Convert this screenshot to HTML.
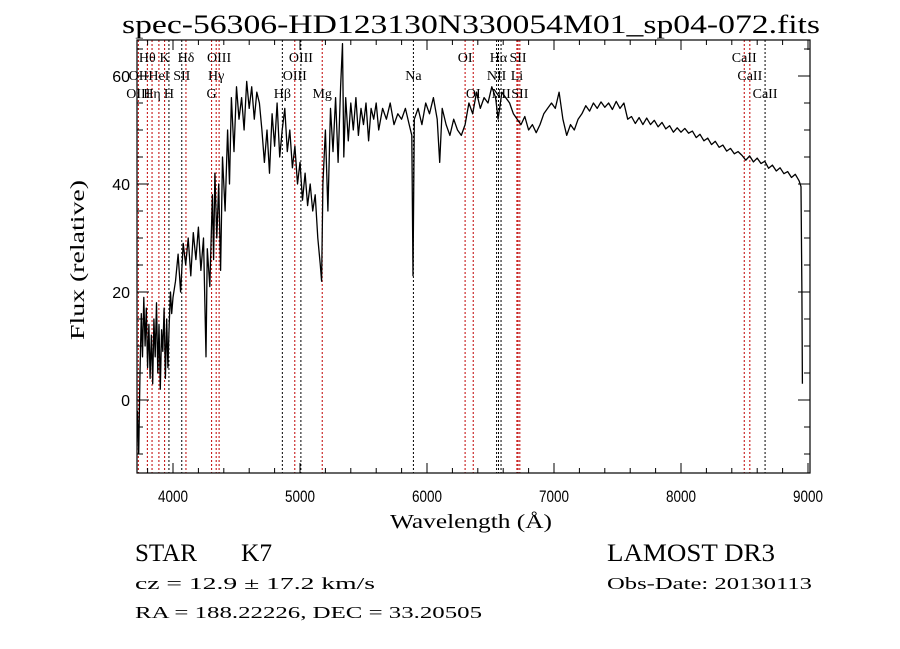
<!DOCTYPE html>
<html><head><meta charset="utf-8"><style>
html,body{margin:0;padding:0;background:#fff;}
svg{display:block;}
.t{font-family:"Liberation Serif",serif;fill:#000;}
.s{font-family:"Liberation Sans",sans-serif;fill:#000;}
</style></head><body>
<svg id="chart" width="900" height="649" xmlns="http://www.w3.org/2000/svg">
<rect width="900" height="649" fill="#fff"/>
<text class="t" x="122" y="33" font-size="26" textLength="698" lengthAdjust="spacingAndGlyphs">spec-56306-HD123130N330054M01_sp04-072.fits</text>
<g id="lines"></g>
<g id="spec"></g>
<g id="axes"></g>
<text class="t" x="390" y="528" font-size="20" textLength="162" lengthAdjust="spacingAndGlyphs">Wavelength (Å)</text>
<text class="t" x="84" y="260" font-size="20" text-anchor="middle" textLength="160" lengthAdjust="spacingAndGlyphs" transform="rotate(-90 84 260)">Flux (relative)</text>
<text class="t" x="135" y="561" font-size="25" textLength="62" lengthAdjust="spacingAndGlyphs">STAR</text>
<text class="t" x="241" y="561" font-size="25" textLength="31" lengthAdjust="spacingAndGlyphs">K7</text>
<text class="t" x="607" y="561" font-size="25" textLength="168" lengthAdjust="spacingAndGlyphs">LAMOST DR3</text>
<text class="t" x="135" y="589" font-size="17" textLength="240" lengthAdjust="spacingAndGlyphs">cz = 12.9 ± 17.2 km/s</text>
<text class="t" x="607" y="589" font-size="17" textLength="205" lengthAdjust="spacingAndGlyphs">Obs-Date: 20130113</text>
<text class="t" x="135" y="618" font-size="17" textLength="347" lengthAdjust="spacingAndGlyphs">RA = 188.22226, DEC =  33.20505</text>
</svg>
<script>
const waves=[3720,3730,3740,3750,3760,3770,3780,3790,3800,3810,3820,3830,3840,3850,3860,3870,3880,3890,3900,3910,3920,3930,3940,3950,3960,3970,3980,3990,4000,4020,4040,4060,4080,4100,4120,4140,4160,4180,4200,4220,4240,4260,4270,4290,4310,4320,4330,4345,4360,4375,4390,4410,4430,4445,4460,4480,4500,4520,4540,4560,4580,4600,4620,4640,4660,4680,4700,4720,4740,4760,4780,4800,4820,4840,4860,4880,4900,4920,4940,4960,4980,5000,5020,5040,5060,5080,5100,5120,5140,5160,5170,5180,5200,5220,5240,5260,5280,5300,5320,5335,5345,5360,5380,5400,5420,5440,5460,5480,5500,5520,5540,5560,5580,5600,5620,5650,5680,5710,5740,5770,5800,5830,5860,5880,5890,5900,5930,5960,5990,6020,6050,6080,6100,6120,6150,6180,6210,6240,6270,6300,6330,6360,6390,6420,6450,6480,6510,6540,
6560,6590,6620,6650,6680,6710,6740,6770,6800,6830,
6860,6890,6920,6950,6980,7010,7040,7070,7100,7130,
7160,7190,7220,7250,7280,7310,7340,7370,7400,7430,
7460,7490,7520,7550,7580,7610,7640,7670,7700,7730,
7760,7790,7820,7850,7880,7910,7940,7970,8000,8030,
8060,8090,8120,8150,8180,8210,8240,8270,8300,8330,
8360,8390,8420,8450,8480,8510,8540,8570,8600,8630,
8660,8690,8720,8750,8780,8810,8840,8870,8900,8930,
8945,8952,8956];
const flux=[-2,-10,5,16,8,19,10,17,6,14,4,12,3,15,8,18,5,14,2,13,9,17,4,15,6,14,20,16,19,22,27,20,29,25,30,23,31,26,32,24,30,8,28,21,38,26,42,30,40,24,45,35,50,40,56,46,58,52,56,50,59,54,58,52,57,55,50,44,50,42,53,47,55,45,50,54,46,50,43,47,40,44,37,42,36,40,35,38,30,25,22,40,50,35,54,46,56,44,58,66,45,56,48,55,50,56,49,54,51,55,48,54,52,55,50,54,52,55,51,53,52,54,51,49,23,52,54,51,55,53,56,52,44,54,51,49,52,50,49,51,55,53,57,54,56,55,58,56,
52,57,56,55,53,52,51,52.5,50,51,
49.5,51,53,54,55,54,57,52,49,51,
50,52,53,54.5,53.5,55,54,55.2,54.2,55,
53.8,55.3,54,55,52,52.5,51.2,52.3,51,52.2,
51,51.8,50.6,51.4,50.2,50.8,49.6,50.4,49.6,50.3,
49.4,49.8,48.6,49.2,48,48.5,47.3,47.9,46.8,47.2,
46.1,46.6,45.6,46,45.3,44.4,45.2,44.1,44.8,43.8,
44.2,42.9,43.5,42.4,43,41.9,42.3,41.2,41.8,40.6,
39.5,20,3];
const lineWaves=[3727,3798,3835,3889,3934,3968,4069,4102,4304,4340,4363,4861,4959,5007,5175,5893,6300,6364,6548,6563,6583,6708,6717,6731,8498,8542,8662];
const lineColors=["r","r","r","r","r","k","k","r","r","r","r","k","r","k","r","k","r","r","k","k","k","r","r","r","r","r","k"];
const labelWaves=[3798,3934,4102,4363,5007,6300,6563,6717,8498,3727,3889,4069,4340,4959,5893,6548,6708,8542,3727,3835,3968,4304,4861,5175,6364,6583,6731,8662];
const labelTexts=["Hθ","K","Hδ","OIII","OIII","OI","Hα","SII","CaII","OII","HeI","SII","Hγ","OIII","Na","NII","Li","CaII","OIII","Hη","H","G","Hβ","Mg","OI","NII","SII","CaII"];
const labelRows=[0,0,0,0,0,0,0,0,0,1,1,1,1,1,1,1,1,1,2,2,2,2,2,2,2,2,2,2];
const xTicks=[4000,5000,6000,7000,8000,9000];
const yTicks=[0,20,40,60];
const NS="http://www.w3.org/2000/svg";
const L=137,R=810,T=40,B=473;
const X=w=>173+(w-4000)*0.127;
const Y=f=>400-f*5.4;
function mk(tag,attrs,parent){const e=document.createElementNS(NS,tag);for(const k in attrs)e.setAttribute(k,attrs[k]);parent.appendChild(e);return e;}
const gl=document.getElementById('lines');
lineWaves.forEach((w,i)=>{
  const e=mk('line',{x1:X(w),x2:X(w),y1:T,y2:B,stroke:lineColors[i]==="r"?"#c00000":"#000","stroke-width":1,"stroke-dasharray":"2,2"},gl);
  
  
});
const rowY=[62,80,98];
labelWaves.forEach((w,i)=>{
  const e=mk('text',{x:X(w),y:rowY[labelRows[i]],"font-size":14,"text-anchor":"middle",class:"t"},gl);
  e.textContent=labelTexts[i];
  
  
});
const gs=document.getElementById('spec');
const n=Math.min(waves.length,flux.length);
const pts=waves.slice(0,n).map((w,i)=>X(w).toFixed(1)+","+Y(Math.max(-13.4,flux[i])).toFixed(1)).join(" ");
const pl=mk('polyline',{points:pts,fill:"none",stroke:"#000","stroke-width":1.3,"stroke-linejoin":"round"},gs);


const ga=document.getElementById('axes');
const fr=mk('rect',{x:L,y:T,width:R-L,height:B-T,fill:"none",stroke:"#000","stroke-width":1.2},ga);


for(let w=3800;w<=9000;w+=200){
  const major=(w%1000===0);const len=major?10:5;
  mk('line',{x1:X(w),x2:X(w),y1:B,y2:B-len,stroke:"#000"},ga);
  mk('line',{x1:X(w),x2:X(w),y1:T,y2:T+len,stroke:"#000"},ga);
}
for(let f=-10;f<=65;f+=5){
  const major=(f%20===0);const len=major?12:6;
  mk('line',{x1:L,x2:L+len,y1:Y(f),y2:Y(f),stroke:"#000"},ga);
  mk('line',{x1:R,x2:R-len,y1:Y(f),y2:Y(f),stroke:"#000"},ga);
}
xTicks.forEach(v=>{
  const e=mk('text',{x:X(v),y:502,"font-size":17,"text-anchor":"middle",textLength:30,lengthAdjust:"spacingAndGlyphs",class:"s"},ga);
  e.textContent=v;
  
  
});
yTicks.forEach(v=>{
  const e=mk('text',{x:130,y:Y(v)+6,"font-size":16,"text-anchor":"end",class:"s"},ga);
  e.textContent=v;
  
  
});
</script>
</body></html>
